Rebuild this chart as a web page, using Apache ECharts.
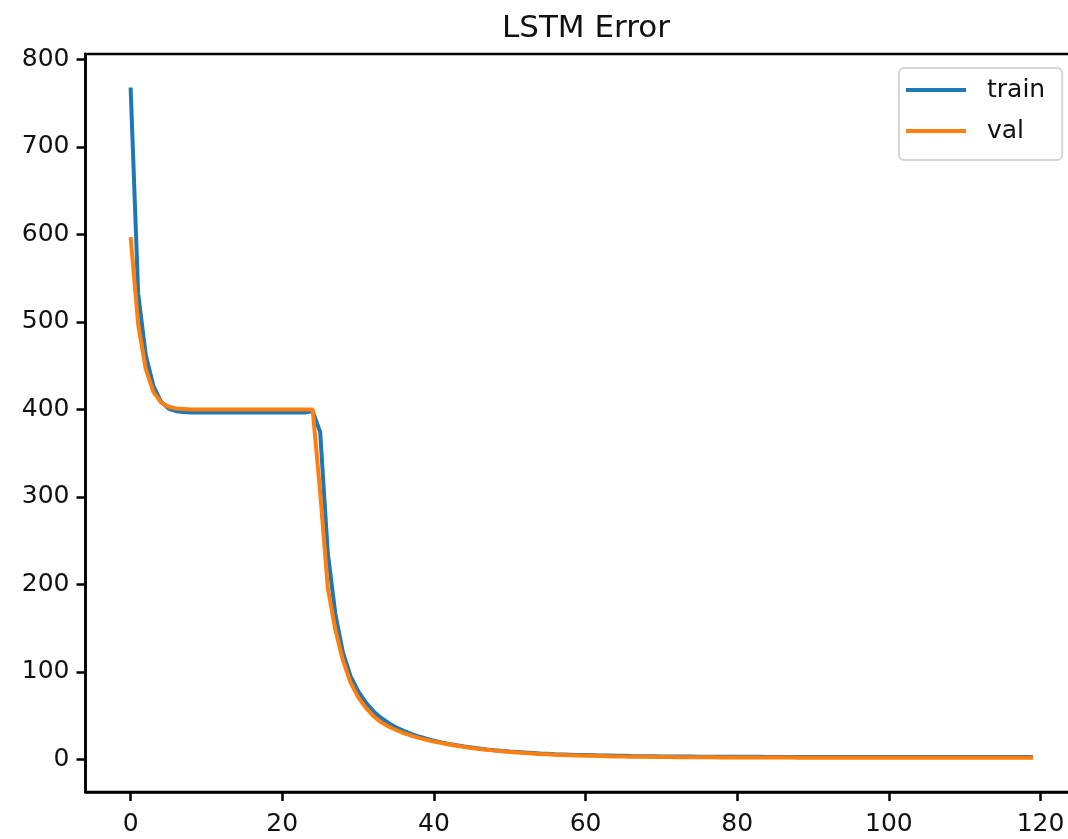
<!DOCTYPE html>
<html>
<head>
<meta charset="utf-8">
<title>LSTM Error</title>
<script src="https://cdn.jsdelivr.net/npm/echarts@6/dist/echarts.min.js"></script>
<style>
  html, body { margin: 0; padding: 0; background: #fff; }
  #main { width: 1068px; height: 839px; }
</style>
</head>
<body>
<div id="main"></div>
<script>
// epochs 0..119
var epochs = [];
for (var i = 0; i < 120; i++) epochs.push(i);

var train = [
  768, 532, 462, 427, 409, 401, 398, 397, 396.5, 396.5,
  396.5, 396.5, 396.5, 396.5, 396.5, 396.5, 396.5, 396.5, 396.5, 396.5,
  396.5, 396.5, 396.5, 396.5, 398, 374, 236, 166, 122, 95,
  78, 65, 55, 47.5, 41.5, 36.5, 32.5, 29, 26, 23.5,
  21.2, 19.3, 17.6, 16.0, 14.6, 13.4, 12.3, 11.3, 10.4, 9.6,
  8.9, 8.3, 7.7, 7.2, 6.7, 6.3, 5.9, 5.6, 5.3, 5.0,
  4.8, 4.6, 4.4, 4.2, 4.0, 3.9, 3.7, 3.6, 3.5, 3.4,
  3.3, 3.2, 3.2, 3.1, 3.1, 3.0, 3.0, 2.9, 2.9, 2.9,
  2.8, 2.8, 2.8, 2.8, 2.7, 2.7, 2.7, 2.7, 2.7, 2.7,
  2.6, 2.6, 2.6, 2.6, 2.6, 2.6, 2.6, 2.6, 2.6, 2.6,
  2.6, 2.6, 2.6, 2.6, 2.6, 2.5, 2.5, 2.5, 2.5, 2.5,
  2.5, 2.5, 2.5, 2.5, 2.5, 2.5, 2.5, 2.5, 2.5, 2.5
];

var val = [
  597, 497, 446, 420, 408, 403, 401, 400.5, 400, 400,
  400, 400, 400, 400, 400, 400, 400, 400, 400, 400,
  400, 400, 400, 400, 400, 305, 196, 148, 113, 88,
  71, 59, 49.5, 42.5, 37.5, 33.5, 30, 27, 24.5, 22.2,
  20.3, 18.6, 17.0, 15.5, 14.1, 12.9, 11.8, 10.8, 9.9, 9.1,
  8.4, 7.7, 7.1, 6.6, 6.1, 5.7, 5.3, 5.0, 4.7, 4.4,
  4.1, 3.9, 3.7, 3.5, 3.3, 3.2, 3.0, 2.9, 2.8, 2.7,
  2.6, 2.5, 2.4, 2.4, 2.3, 2.3, 2.2, 2.2, 2.1, 2.1,
  2.0, 2.0, 2.0, 1.9, 1.9, 1.9, 1.9, 1.9, 1.8, 1.8,
  1.8, 1.8, 1.8, 1.8, 1.8, 1.8, 1.8, 1.8, 1.8, 1.8,
  1.8, 1.8, 1.7, 1.7, 1.7, 1.7, 1.7, 1.7, 1.7, 1.7,
  1.7, 1.7, 1.7, 1.7, 1.7, 1.7, 1.7, 1.7, 1.7, 1.7
];

var xTicks = [0, 20, 40, 60, 80, 100, 120];
var yTicks = [0, 100, 200, 300, 400, 500, 600, 700, 800];

function pairs(ys) {
  var out = [];
  for (var i = 0; i < epochs.length; i++) out.push([epochs[i], ys[i]]);
  return out;
}

var font = 'DejaVu Sans';
var chart = echarts.init(document.getElementById('main'), null, { renderer: 'canvas' });

var option = {
  animation: false,
  backgroundColor: '#fff',
  title: {
    text: 'LSTM Error',
    left: 581,
    textAlign: 'center',
    top: 8,
    textStyle: { fontFamily: font, fontSize: 31, fontWeight: 'normal', color: '#111' }
  },
  legend: {
    orient: 'vertical',
    left: 899,
    top: 68,
    padding: [8, 17, 15, 7],
    itemGap: 13,
    itemWidth: 60,
    itemHeight: 4,
    icon: 'rect',
    backgroundColor: '#fff',
    borderColor: '#d5d5d5',
    borderWidth: 2,
    borderRadius: 5,
    textStyle: { fontFamily: font, fontSize: 25, color: '#111', lineHeight: 28, padding: [0, 0, 0, 16] },
    data: ['train', 'val']
  },
  grid: {
    left: 85.5,
    top: 54,
    width: 992.6,
    bottom: 47,
    outerBoundsMode: 'none',
    containLabel: false,
    show: true,
    borderColor: '#000',
    borderWidth: 2.5
  },
  xAxis: {
    type: 'value',
    min: -5.95,
    max: 124.95,
    splitLine: { show: false },
    axisLine: { show: true, onZero: false, lineStyle: { color: '#000', width: 2.5 } },
    axisTick: { show: true, length: 9, customValues: xTicks, lineStyle: { color: '#000', width: 2.5 } },
    axisLabel: { customValues: xTicks, margin: 20, fontFamily: font, fontSize: 25, color: '#111' }
  },
  yAxis: {
    type: 'value',
    min: -37.4,
    max: 806.3,
    splitLine: { show: false },
    axisLine: { show: true, onZero: false, lineStyle: { color: '#000', width: 2.5 } },
    axisTick: { show: true, length: 9, customValues: yTicks, lineStyle: { color: '#000', width: 2.5 } },
    axisLabel: { customValues: yTicks, margin: 16, fontFamily: font, fontSize: 25, color: '#111' }
  },
  series: [
    {
      name: 'train',
      type: 'line',
      data: pairs(train),
      showSymbol: false,
      symbol: 'none',
      color: '#1f77b4',
      lineStyle: { color: '#1f77b4', width: 4 }
    },
    {
      name: 'val',
      type: 'line',
      data: pairs(val),
      showSymbol: false,
      symbol: 'none',
      color: '#ff7f0e',
      lineStyle: { color: '#ff7f0e', width: 4 }
    }
  ]
};

chart.setOption(option);
</script>
</body>
</html>
